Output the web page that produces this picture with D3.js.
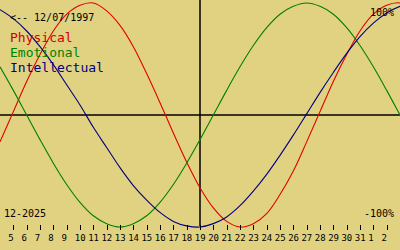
<!DOCTYPE html>
<html>
<head>
<meta charset="utf-8">
<script src="https://cdn.jsdelivr.net/npm/d3@7"></script>
<style>
  body { margin: 0; background: #e1d282; }
  svg { display: block; }
  text { font-family: "DejaVu Sans Mono", monospace; }
</style>
</head>
<body>
<script>
var width = 400;
var height = 250;

// days shown (index continues past 31 into next month)
var days = [4,5,6,7,8,9,10,11,12,13,14,15,16,17,18,19,20,21,22,23,24,25,26,27,28,29,30,31,32,33,34,35];
var physical = [-0.24,0.03,0.30,0.54,0.75,0.90,0.98,1.00,0.93,0.80,0.61,0.37,0.11,-0.16,-0.42,-0.65,-0.83,-0.95,-1.00,-0.97,-0.88,-0.71,-0.50,-0.24,0.03,0.30,0.54,0.75,0.90,0.98,1.00,0.93];
var emotional = [0.43,0.22,0.00,-0.22,-0.43,-0.62,-0.78,-0.90,-0.97,-1.00,-0.97,-0.90,-0.78,-0.62,-0.43,-0.22,0.00,0.22,0.43,0.62,0.78,0.90,0.97,1.00,0.97,0.90,0.78,0.62,0.43,0.22,0.00,-0.22];
var intellectual = [0.94,0.86,0.75,0.61,0.45,0.27,0.09,-0.11,-0.29,-0.47,-0.63,-0.76,-0.87,-0.95,-0.99,-1.00,-0.97,-0.91,-0.81,-0.68,-0.53,-0.36,-0.18,0.01,0.20,0.38,0.55,0.70,0.82,0.91,0.97,1.00];

var tickDays = [5,6,7,8,9,10,11,12,13,14,15,16,17,18,19,20,21,22,23,24,25,26,27,28,29,30,31,32,33];
var tickLabels = ["5","6","7","8","9","10","11","12","13","14","15","16","17","18","19","20","21","22","23","24","25","26","27","28","29","30","31","1","2"];
var today = 19;

var series = [
  {name: "Physical", values: physical, color: "#e00000", text: "#d00000"},
  {name: "Emotional", values: emotional, color: "#008000", text: "#008000"},
  {name: "Intellectual", values: intellectual, color: "#000080", text: "#000080"}
];

var x = d3.scaleLinear().domain([4, 34]).range([0, width]);
var y = d3.scaleLinear().domain([-1, 1]).range([227, 3]);

var svg = d3.select("body").append("svg")
    .attr("width", width)
    .attr("height", height);

svg.append("rect")
    .attr("width", width)
    .attr("height", height)
    .attr("fill", "#e1d282");

// zero line and today line
svg.append("line")
    .attr("x1", 0).attr("x2", width)
    .attr("y1", y(0)).attr("y2", y(0))
    .attr("stroke", "#000").attr("stroke-width", 1.5);

svg.append("line")
    .attr("x1", x(today)).attr("x2", x(today))
    .attr("y1", 0).attr("y2", 226)
    .attr("stroke", "#000").attr("stroke-width", 1.5);

var line = d3.line()
    .x(function(d, i) { return x(days[i]); })
    .y(function(d) { return y(d); })
    .curve(d3.curveCatmullRom);

svg.selectAll(".curve")
  .data(series)
  .enter()
    .append("path")
    .attr("class", "curve")
    .attr("d", function(d) { return line(d.values); })
    .attr("fill", "none")
    .attr("stroke", function(d) { return d.color; })
    .attr("stroke-width", 1.1);

// ticks along the bottom
svg.selectAll(".tick")
  .data(tickDays)
  .enter()
    .append("line")
    .attr("class", "tick")
    .attr("x1", function(d) { return Math.round(x(d)) + 0.5; })
    .attr("x2", function(d) { return Math.round(x(d)) + 0.5; })
    .attr("y1", 225).attr("y2", 230)
    .attr("stroke", "#000");

svg.selectAll(".tlabel")
  .data(tickDays)
  .enter()
    .append("text")
    .attr("class", "tlabel")
    .attr("x", function(d) { return x(d) - 5.2; })
    .attr("y", 241)
    .attr("font-size", "9px")
    .attr("fill", "#000")
    .text(function(d, i) { return tickLabels[i]; });

// legend
svg.selectAll(".legend")
  .data(series)
  .enter()
    .append("text")
    .attr("class", "legend")
    .attr("x", 10)
    .attr("y", function(d, i) { return 42 + i * 15; })
    .attr("font-size", "13px")
    .attr("fill", function(d) { return d.text; })
    .text(function(d) { return d.name; });

svg.append("text")
    .attr("x", 10).attr("y", 20.5)
    .attr("font-size", "10px")
    .text("<-- 12/07/1997");

svg.append("text")
    .attr("x", 394).attr("y", 15.5)
    .attr("text-anchor", "end")
    .attr("font-size", "10px")
    .text("100%");

svg.append("text")
    .attr("x", 394).attr("y", 216.5)
    .attr("text-anchor", "end")
    .attr("font-size", "10px")
    .text("-100%");

svg.append("text")
    .attr("x", 4).attr("y", 216.5)
    .attr("font-size", "10px")
    .text("12-2025");
</script>
</body>
</html>
